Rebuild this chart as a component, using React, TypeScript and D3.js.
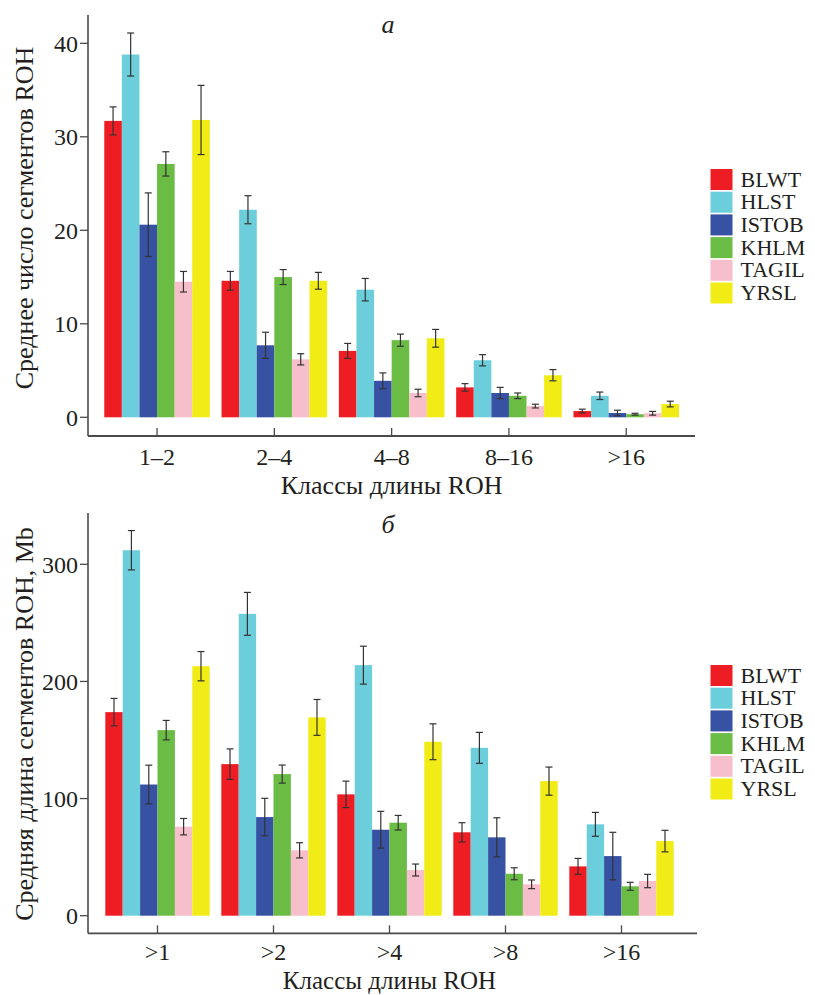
import React from "react";
import * as d3 from "d3";

const series = ["BLWT", "HLST", "ISTOB", "KHLM", "TAGIL", "YRSL"];
const colors = ["#EE1D24", "#6CCDDB", "#3752A3", "#6ABC45", "#F7BFCB", "#F1EB16"];

const catsA = ["1–2", "2–4", "4–8", "8–16", ">16"];
// values per category, per series order
const valsA = [
  [31.7, 38.8, 20.6, 27.1, 14.5, 31.8],
  [14.6, 22.2, 7.7, 15.0, 6.2, 14.6],
  [7.1, 13.65, 3.9, 8.25, 2.6, 8.45],
  [3.2, 6.1, 2.6, 2.3, 1.2, 4.5],
  [0.67, 2.3, 0.46, 0.33, 0.43, 1.42],
];
const errA = [
  [1.5, 2.3, 3.4, 1.3, 1.1, 3.7],
  [1.0, 1.5, 1.4, 0.8, 0.6, 0.9],
  [0.8, 1.2, 0.85, 0.65, 0.4, 0.95],
  [0.4, 0.6, 0.6, 0.3, 0.2, 0.6],
  [0.2, 0.4, 0.3, 0.1, 0.2, 0.3],
];
const ticksA = [0, 10, 20, 30, 40];

const catsB = [">1", ">2", ">4", ">8", ">16"];
const valsB = [
  [173.8, 312, 112, 158.4, 76, 213],
  [129.4, 257.7, 84.2, 120.9, 55.8, 169.3],
  [103.6, 213.9, 73.4, 79.4, 39, 148.5],
  [71.2, 143.3, 66.9, 35.8, 26.8, 114.9],
  [42.1, 78, 50.9, 25.1, 29.6, 63.7],
];
const errB = [
  [11.7, 16.8, 16.5, 8.3, 7, 12.5],
  [13, 18.3, 16, 7.7, 6.5, 15.3],
  [11.3, 16.2, 15.7, 6.2, 5.1, 15.3],
  [8.2, 13.2, 16.7, 5.1, 3.7, 12],
  [6.8, 10.2, 20.3, 3.4, 5.7, 9.2],
];
const ticksB = [0, 100, 200, 300];

const FONT = "'Liberation Serif', 'Times New Roman', serif";
const AXIS = "#4a4a4a";

type PanelProps = {
  cats: string[];
  vals: number[][];
  errs: number[][];
  ticks: number[];
  yDomain: [number, number];
  yRange: [number, number];
  xRange: [number, number];
  axisTop: number;
  axisY: number;
  axisRight: number;
  tickDy: number;
  xTitleDy: number;
  xTitleSize: number;
  yTitle: string;
  yTitleCenter: number;
  letter: string;
  letterY: number;
  legendTop: number;
};

function Panel(p: PanelProps) {
  const x = d3.scaleBand<string>().domain(p.cats).range(p.xRange).paddingInner(0.1).paddingOuter(0.05);
  const xs = d3.scaleBand<string>().domain(series).range([0, x.bandwidth()]).padding(0);
  const y = d3.scaleLinear().domain(p.yDomain).range(p.yRange);
  const axisX = 88;
  return (
    <g>
      {p.cats.map((c, ci) => (
        <g key={c} transform={`translate(${x(c)},0)`}>
          {series.map((s, si) => {
            const v = p.vals[ci][si];
            const e = p.errs[ci][si];
            const bx = xs(s)!;
            const cx = bx + xs.bandwidth() / 2;
            return (
              <g key={s}>
                <rect x={bx} y={y(v)} width={xs.bandwidth()} height={y(0) - y(v)} fill={colors[si]} />
                <line x1={cx} x2={cx} y1={y(v + e)} y2={y(v - e)} stroke="#333" strokeWidth={1.2} />
                <line x1={cx - 3.5} x2={cx + 3.5} y1={y(v + e)} y2={y(v + e)} stroke="#333" strokeWidth={1.2} />
                <line x1={cx - 3.5} x2={cx + 3.5} y1={y(v - e)} y2={y(v - e)} stroke="#333" strokeWidth={1.2} />
              </g>
            );
          })}
        </g>
      ))}
      <line x1={axisX} x2={axisX} y1={p.axisTop} y2={p.axisY} stroke={AXIS} strokeWidth={1.6} />
      <line x1={axisX} x2={p.axisRight} y1={p.axisY} y2={p.axisY} stroke={AXIS} strokeWidth={1.8} />
      {p.ticks.map((t) => (
        <g key={t}>
          <line x1={axisX - 8} x2={axisX} y1={y(t)} y2={y(t)} stroke={AXIS} strokeWidth={1.3} />
          <text x={axisX - 10} y={y(t)} dy="0.35em" textAnchor="end" fontFamily={FONT} fontSize={24} fill="#231f20">
            {t}
          </text>
        </g>
      ))}
      {p.cats.map((c) => {
        const cx = x(c)! + x.bandwidth() / 2;
        return (
          <g key={c}>
            <line x1={cx} x2={cx} y1={p.axisY - 8} y2={p.axisY} stroke={AXIS} strokeWidth={1.3} />
            <text x={cx} y={p.axisY + p.tickDy} textAnchor="middle" fontFamily={FONT} fontSize={24} fill="#231f20">
              {c}
            </text>
          </g>
        );
      })}
      <text
        x={(p.xRange[0] + p.xRange[1]) / 2}
        y={p.axisY + p.xTitleDy}
        textAnchor="middle"
        fontFamily={FONT}
        fontSize={p.xTitleSize}
        fill="#231f20"
      >
        Классы длины ROH
      </text>
      <text
        transform={`translate(33,${p.yTitleCenter}) rotate(-90)`}
        textAnchor="middle"
        fontFamily={FONT}
        fontSize={26}
        fill="#231f20"
      >
        {p.yTitle}
      </text>
      <text x={388} y={p.letterY} textAnchor="middle" fontFamily={FONT} fontStyle="italic" fontSize={26} fill="#231f20">
        {p.letter}
      </text>
      {series.map((s, i) => {
        const ly = p.legendTop + i * 22.7;
        return (
          <g key={s}>
            <rect x={710.5} y={ly} width={22} height={21} fill={colors[i]} />
            <text x={740.5} y={ly + 17.5} fontFamily={FONT} fontSize={22} fill="#231f20">
              {s}
            </text>
          </g>
        );
      })}
    </g>
  );
}

export default function App() {
  return (
    <svg width={815} height={995} style={{ position: "absolute", left: 0, top: 0, background: "#fff" }}>
      <rect width={815} height={995} fill="#fff" />
      <Panel
        cats={catsA}
        vals={valsA}
        errs={errA}
        ticks={ticksA}
        yDomain={[0, 40]}
        yRange={[417.3, 43.3]}
        xRange={[98.4, 684.9]}
        axisTop={15}
        axisY={436}
        axisRight={695}
        tickDy={29}
        xTitleDy={58}
        xTitleSize={26}
        yTitle="Среднее число сегментов ROH"
        yTitleCenter={218}
        letter="а"
        letterY={33}
        legendTop={169}
      />
      <Panel
        cats={catsB}
        vals={valsB}
        errs={errB}
        ticks={ticksB}
        yDomain={[0, 300]}
        yRange={[915.7, 564.3]}
        xRange={[99.5, 679.5]}
        axisTop={513}
        axisY={933.3}
        axisRight={697}
        tickDy={26.5}
        xTitleDy={55.5}
        xTitleSize={25}
        yTitle="Средняя длина сегментов ROH, Mb"
        yTitleCenter={724}
        letter="б"
        letterY={533}
        legendTop={665}
      />
    </svg>
  );
}
